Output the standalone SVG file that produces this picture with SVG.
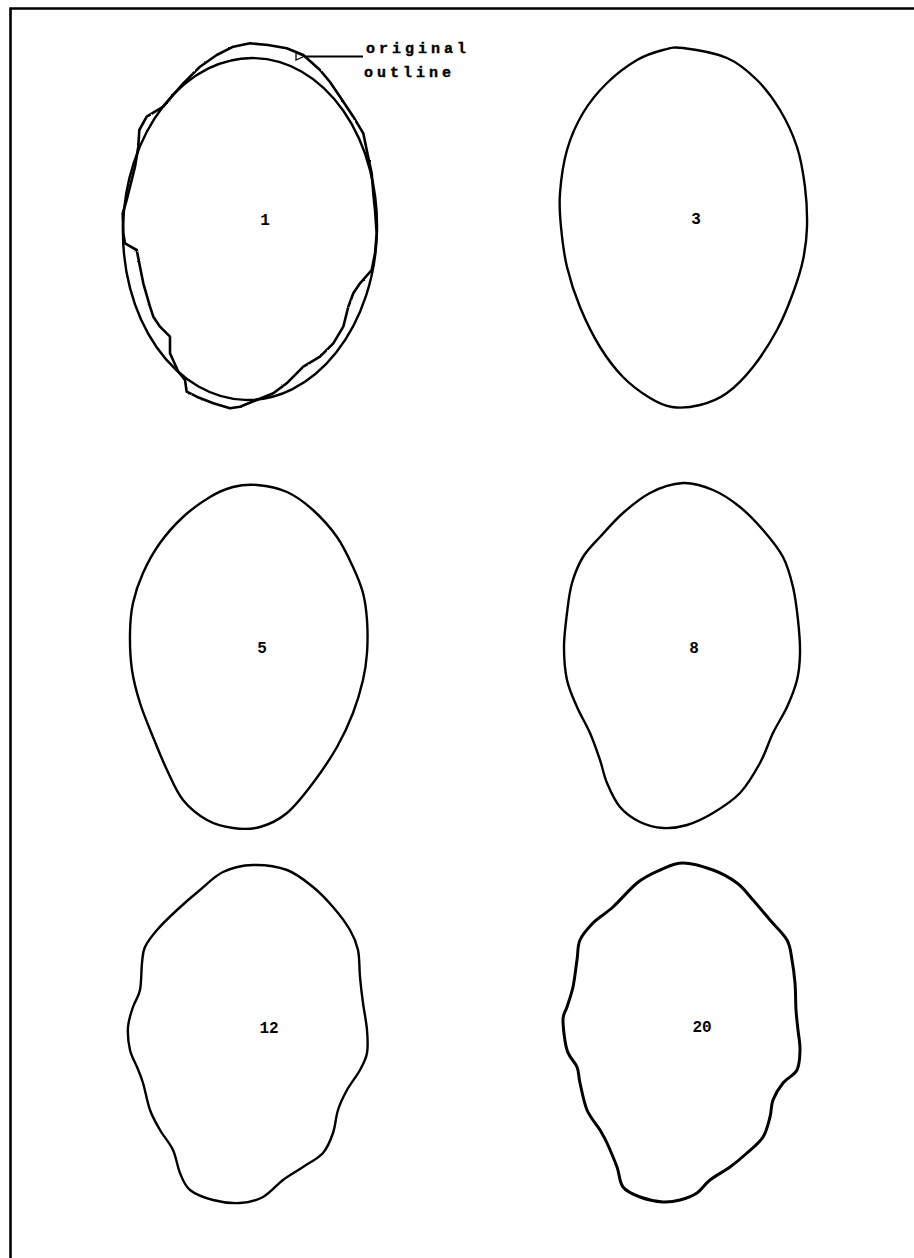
<svg xmlns="http://www.w3.org/2000/svg" width="914" height="1258" viewBox="0 0 914 1258">
<style>
.shape{fill:none;stroke:#000;stroke-width:2.4;stroke-linejoin:round;stroke-linecap:round}
.lbl{font-family:"Liberation Mono","DejaVu Sans Mono",monospace;font-weight:bold;font-size:16px;fill:#000;text-anchor:middle}
.note{font-family:"Liberation Mono","DejaVu Sans Mono",monospace;font-weight:bold;font-size:15px;letter-spacing:4px;fill:#000;stroke:#000;stroke-width:0.4}
.conn{fill:none;stroke:#000;stroke-width:1.8}
</style>
<defs>
<filter id="rough" x="-10%" y="-10%" width="120%" height="120%">
<feTurbulence type="fractalNoise" baseFrequency="0.3" numOctaves="1" seed="5" result="n"/>
<feDisplacementMap in="SourceGraphic" in2="n" scale="2" xChannelSelector="R" yChannelSelector="G"/>
</filter>
<marker id="arr" markerWidth="10" markerHeight="10" refX="1" refY="5" orient="auto" markerUnits="userSpaceOnUse">
<path d="M1,5 L9,1.5 L9,8.5 Z" fill="#fff" stroke="#000" stroke-width="1.3"/>
</marker>
</defs>
<rect width="914" height="1258" fill="#fff"/>
<path id="frame" d="M10.5,1258 V8.5 H914" fill="none" stroke="#000" stroke-width="2.6"/>

<g id="node-1">
<ellipse class="shape" cx="250" cy="229" rx="127" ry="171" transform="rotate(1.7 250 229)"/>
<polygon class="shape" style="stroke-width:2.6" filter="url(#rough)" points="250,43.3 268,45 286.7,48.3 303.3,55 320,70 330,82 340,96.7 353.3,116.7 363.3,133.3 366.7,150 371.7,173.3 373.3,193.3 375,210 376.7,233.3 375,253.3 371.7,270 360,283.3 353.3,293.3 348.3,306.7 343.3,326.7 333.3,343.3 320,356.7 303.3,366.7 286.7,383.3 273.3,393.3 256.7,400 240,406.7 230,408.3 213.3,403.3 196.7,396.7 186.7,391.7 185,380 178.3,371.7 170,353.3 170,336.7 160,326.7 153.3,316.7 150,306.7 143.3,283.3 140,266.7 136.7,250 125,243.3 123.3,233.3 122.7,213.3 126.7,200 130,186.7 135,166.7 138.3,146.7 139.3,130 146.7,116.7 163.3,106.7 171.7,96.7 183.3,83.3 200,66.7 216.7,55 233.3,46.7"/>
<text class="lbl" x="265" y="225">1</text>
</g>

<g id="node-3">
<path class="shape" d="M683,48 C693.7,49.3 714.7,52.7 727,58 S748.2,71.3 757,80 S773.3,98.8 780,110 S792.8,134.2 797,147 S803.3,173.7 805,187 S807.3,214.8 807,227 S805.3,249 803,260 S797.3,281.3 793,293 S783.7,317.7 777,330 S761.3,356.5 753,367 S735.8,386.7 727,393 S709.2,402.7 700,405 S680.3,408.2 672,407 S658.2,403 650,398 S631.3,385.5 623,377 S607.2,358.7 600,347 S585.5,320.3 580,307 S570.2,280.3 567,267 S562.2,239.3 561,227 S559,205.8 560,193 S563.2,163.3 567,150 S576.3,124.2 583,113 S598,91.8 607,83 S627.7,65.5 637,60 S655.3,52 663,50 S672.3,46.7 683,48 Z"/>
<text class="lbl" x="696" y="224">3</text>
</g>

<g id="node-5">
<path class="shape" d="M257,485 C266,485.8 277.7,487.8 287,492 S304.7,502.5 313,510 S330.3,527.5 337,537 S348.7,557.7 353,567 S360.7,584.2 363,593 S366.3,610 367,620 S367.7,643 367,653 S365.3,670 363,680 S357.3,701.8 353,713 S343.7,735.3 337,747 S321.3,772 313,783 S295.8,805.7 287,813 S269,824.5 260,827 S241.8,829.2 233,828 S215.3,824.7 207,820 S189.7,808.3 183,800 S172,780.5 167,770 S157.5,748.2 153,737 S143.5,714.2 140,703 S133.7,681.7 132,670 S129.8,644.2 130,633 S130.8,613 133,603 S138.5,583 143,573 S153.3,552.3 160,543 S174.7,524.7 183,517 S201.7,502 210,497 S225.2,489 233,487 S248,484.2 257,485 Z"/>
<text class="lbl" x="262" y="653">5</text>
</g>

<g id="node-8">
<path class="shape" d="M683,483 C693.5,482.5 703.5,486 713,490 S731.7,500.3 740,507 S755.8,521.7 763,530 S778,547.5 783,557 S790.5,576.5 793,587 S796.8,609 798,620 S800.2,643 800,653 S799.2,671 797,680 S791,698.2 787,707 S777.5,723.7 773,733 S765.5,753 760,763 S747.8,784.7 740,793 S721.8,807.7 713,813 S695.3,822.5 687,825 S670.8,828.5 663,828 S647.2,825.5 640,822 S625.5,813.5 620,807 S610.3,790.8 607,783 S602.8,768.3 600,760 S593.8,741.8 590,733 S580.8,715.8 577,707 S569.2,690 567,680 S564,658.2 564,647 S565.7,623.7 567,613 S569.3,592.3 572,583 S578.3,564.7 583,557 S593.3,544.3 600,537 S614.7,520.3 623,513 S640,498.3 650,493 S672.5,483.5 683,483 Z"/>
<text class="lbl" x="694" y="653">8</text>
</g>

<g id="node-12">
<path class="shape" d="M253,865 C263.7,864.7 277,866.3 287,870 S305.3,880.8 313,887 S326.8,899.8 333,907 S345.8,922.8 350,930 S356.3,942.2 358,950 S359.2,968.2 360,977 S361.8,994.2 363,1003 S366.3,1021.7 367,1030 S368.2,1046.3 367,1053 S363.3,1063.8 360,1070 S350.7,1083.3 347,1090 S340.3,1102.8 338,1110 S335.5,1125.8 333,1133 S328,1147.3 323,1153 S309.7,1162.5 303,1167 S289.7,1175 283,1180 S270.2,1193.2 263,1197 S248.3,1202.5 240,1203 S221.3,1202.2 213,1200 S195.5,1194.5 190,1190 S182.8,1179.7 180,1173 S176.3,1157.2 173,1150 S163.8,1136.7 160,1130 S152.8,1117.8 150,1110 S145.2,1090.2 143,1083 S139.2,1072.5 137,1067 S131.5,1056.7 130,1050 S127.5,1034.2 128,1027 S131,1013.2 133,1007 S138.5,997.3 140,990 S141.2,970.2 142,963 S142.5,952.5 145,947 S151.7,936.2 157,930 S169.8,916.7 177,910 S192.3,896.3 200,890 S214.2,876.2 223,872 S242.3,865.3 253,865 Z"/>
<text class="lbl" x="269" y="1033">12</text>
</g>

<g id="node-20">
<path class="shape" style="stroke-width:3" d="M683,863 C691.8,863 704,866.7 713,870 S730.3,878 737,883 S747.5,893.8 753,900 S764.3,913.3 770,920 S783.3,933.3 787,940 S790.7,952.8 792,960 S794.3,974.7 795,983 S795.5,1002.2 796,1010 S797.3,1023.3 798,1030 S800.2,1043.3 800,1050 S799.8,1064.5 797,1070 S787,1078 783,1083 S775.2,1094.3 773,1100 S771.7,1110.8 770,1117 S766.8,1131 763,1137 S752.5,1148 747,1153 S736.2,1162.5 730,1167 S715.5,1175.7 710,1180 S702,1189.7 697,1193 S685.7,1198.5 680,1200 S669.7,1202.5 663,1202 S646.7,1199.5 640,1197 S626.8,1192 623,1187 S619.7,1174.3 617,1167 S609.8,1149.2 607,1143 S603.3,1135.5 600,1130 S590.3,1117.8 587,1110 S581.7,1090.2 580,1083 S579.2,1072.5 577,1067 S569.3,1057.8 567,1050 S563,1027.2 563,1020 S565.3,1012.5 567,1007 S571.3,994.8 573,987 S575.8,967.8 577,960 S577.3,946.2 580,940 S587.5,928.8 593,923 S605.7,913.7 613,907 S629.2,889.5 637,883 S652.3,873.3 660,870 S674.2,863 683,863 Z"/>
<text class="lbl" x="702" y="1032">20</text>
</g>

<g id="connectors">
<path class="conn" d="M363,56.5 H304" marker-end="url(#arr)"/>
</g>

<g id="note-original-outline">
<text class="note" x="366" y="53">original</text>
<text class="note" x="364" y="77">outline</text>
</g>
</svg>
